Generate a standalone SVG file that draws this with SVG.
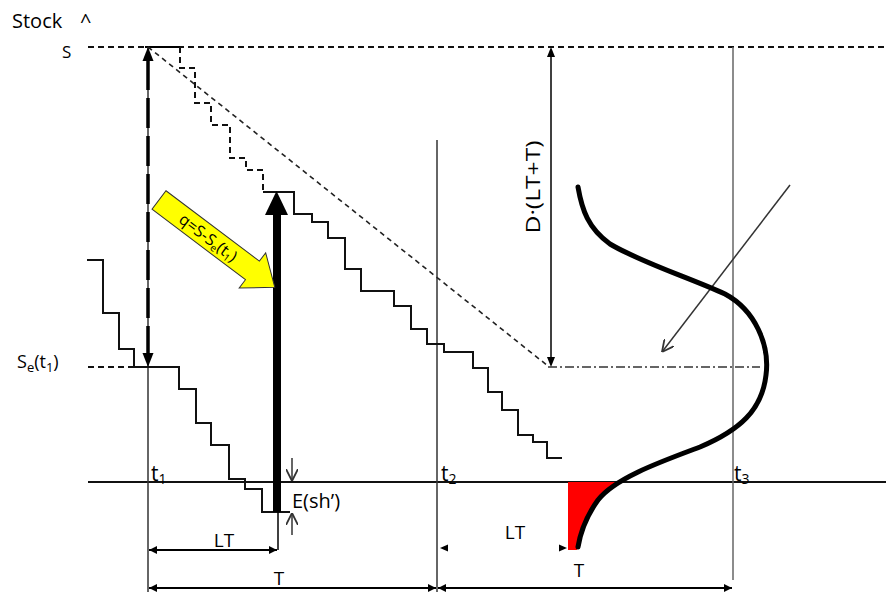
<svg xmlns="http://www.w3.org/2000/svg" width="886" height="594" viewBox="0 0 886 594">
<style>
text{font-family:"Open Sans","Liberation Sans",Arial,sans-serif;fill:#000}
.stair{fill:none;stroke:#111;stroke-width:2}
.thin{fill:none;stroke:#333;stroke-width:1.5}
.dash{fill:none;stroke:#111;stroke-width:2;stroke-dasharray:6 4}
.dim{fill:none;stroke:#000;stroke-width:2}
.head{fill:#000}
</style>
<defs>
<marker id="open" viewBox="0 0 10 10" refX="10" refY="5" markerWidth="12" markerHeight="12" markerUnits="userSpaceOnUse" orient="auto">
<path d="M0,0 L10,5 L0,10" fill="none" stroke="#333" stroke-width="1.5"/>
</marker>
<marker id="tri" viewBox="0 0 10 10" refX="10" refY="5" markerWidth="8" markerHeight="8" markerUnits="userSpaceOnUse" orient="auto-start-reverse">
<path d="M0,0 L10,5 L0,10 Z" fill="#000"/>
</marker>
</defs>
<rect width="886" height="594" fill="#fff"/>

<g id="axes">
<path class="dash" d="M88,47 H886"/>
<path d="M145,47 H180" stroke="#000" stroke-width="2"/>
<path d="M88,482 H886" stroke="#111" stroke-width="2"/>
<path class="thin" d="M148,47 V592"/>
<path class="thin" d="M437,140 V592"/>
<path d="M733,47 V580" stroke="#666" stroke-width="1.5"/>
</g>

<g id="stock-curves">
<path class="stair" d="M87,260 H103 V313 H119 V349 H134 V367 H179 V389 H196 V423 H211 V445 H229 V479 H245 V489 H262 V512 H290"/>
<path class="dash" d="M88,367 H134"/>
<path class="stair" d="M263,192 H294 V214 H312 V222 H328 V238 H345 V269 H361 V291 H394 V306 H411 V329 H427 V344 H444 V352 H473 V368 H488 V392 H502 V410 H518 V435 H533 V442 H547 V458 H562"/>
<path class="dash" d="M180,47 V68 H195 V103 H211 V125 H230 V158 H246 V170 H263 V192"/>
<path d="M148,47 L548,366" fill="none" stroke="#222" stroke-width="1.6" stroke-dasharray="5 4"/>
<path d="M548,367 H760" fill="none" stroke="#333" stroke-width="1.6" stroke-dasharray="9 3 2 3"/>
</g>

<g id="connectors">
<path d="M148,60 V354" stroke="#000" stroke-width="3.5" stroke-dasharray="30 8" fill="none"/>
<polygon class="head" points="142.5,61 148,47 153.5,61"/>
<polygon class="head" points="142.5,353 148,367 153.5,353"/>
<rect x="273" y="214" width="8" height="298" fill="#000"/>
<polygon class="head" points="265,215 276.5,191 288,215"/>
<path d="M551,56 V358" stroke="#000" stroke-width="1.5"/>
<polygon class="head" points="547,57 551,47 555,57"/>
<polygon class="head" points="547,357 551,367 555,357"/>
<path d="M278,512 V550" stroke="#000" stroke-width="1.5"/>
<path class="dim" d="M149,550 H277" marker-start="url(#tri)" marker-end="url(#tri)"/>
<path class="dim" d="M149,588 H436" marker-start="url(#tri)" marker-end="url(#tri)"/>
<path class="dim" d="M438,588 H732" marker-start="url(#tri)" marker-end="url(#tri)"/>
<polygon class="head" points="440,548 448,544.5 448,551.5"/>
<polygon class="head" points="567,548 559,544.5 559,551.5"/>
<path class="thin" d="M292,458 V481" marker-end="url(#open)"/>
<path class="thin" d="M292,535 V513" marker-end="url(#open)"/>
<path class="thin" d="M790,185 L662,352" marker-end="url(#open)"/>
</g>

<g id="distribution">
<path d="M568,482 L621,482 C605,492 592,503 587,515 C582,528 579,540 577,550 L568,550 Z" fill="#f00"/>
<path d="M578,187 C582,210 588,228 610,244 C640,262 690,278 725,294 C755,310 770,345 766,375 C762,410 740,430 700,447 C660,462 615,478 598,500 C585,518 580,535 578,547" fill="none" stroke="#000" stroke-width="5" stroke-linecap="round"/>
</g>

<g id="q-arrow" transform="translate(159,200) rotate(37)">
<polygon points="0,-11.6 117,-11.6 117,-22 145,0 117,22 117,11.6 0,11.6" fill="#ff0" stroke="#333" stroke-width="1"/>
<text x="62" y="6" font-size="16" text-anchor="middle">q=S-S<tspan font-size="10" dy="3">e</tspan><tspan dy="-3">(t</tspan><tspan font-size="10" dy="3">1</tspan><tspan dy="-3">)</tspan></text>
</g>

<g id="labels">
<text x="12" y="28" font-size="20">Stock<tspan x="80">^</tspan></text>
<text x="62" y="58" font-size="17">S</text>
<text x="17" y="368" font-size="18">S<tspan font-size="13" dy="4">e</tspan><tspan dy="-4">(t</tspan><tspan font-size="13" dy="4">1</tspan><tspan dy="-4">)</tspan></text>
<text x="151" y="481" font-size="21">t<tspan font-size="14" dy="3">1</tspan></text>
<text x="441" y="481" font-size="21">t<tspan font-size="14" dy="3">2</tspan></text>
<text x="734" y="481" font-size="21">t<tspan font-size="14" dy="3">3</tspan></text>
<text x="292" y="508" font-size="20">E(sh’)</text>
<text x="224" y="547" font-size="19" text-anchor="middle">LT</text>
<text x="279" y="585" font-size="19" text-anchor="middle">T</text>
<text x="515" y="539" font-size="19" text-anchor="middle">LT</text>
<text x="579" y="577" font-size="19" text-anchor="middle">T</text>
<text transform="translate(540,187) rotate(-90)" font-size="20" text-anchor="middle" textLength="93" lengthAdjust="spacingAndGlyphs">D·(LT+T)</text>
</g>
</svg>
